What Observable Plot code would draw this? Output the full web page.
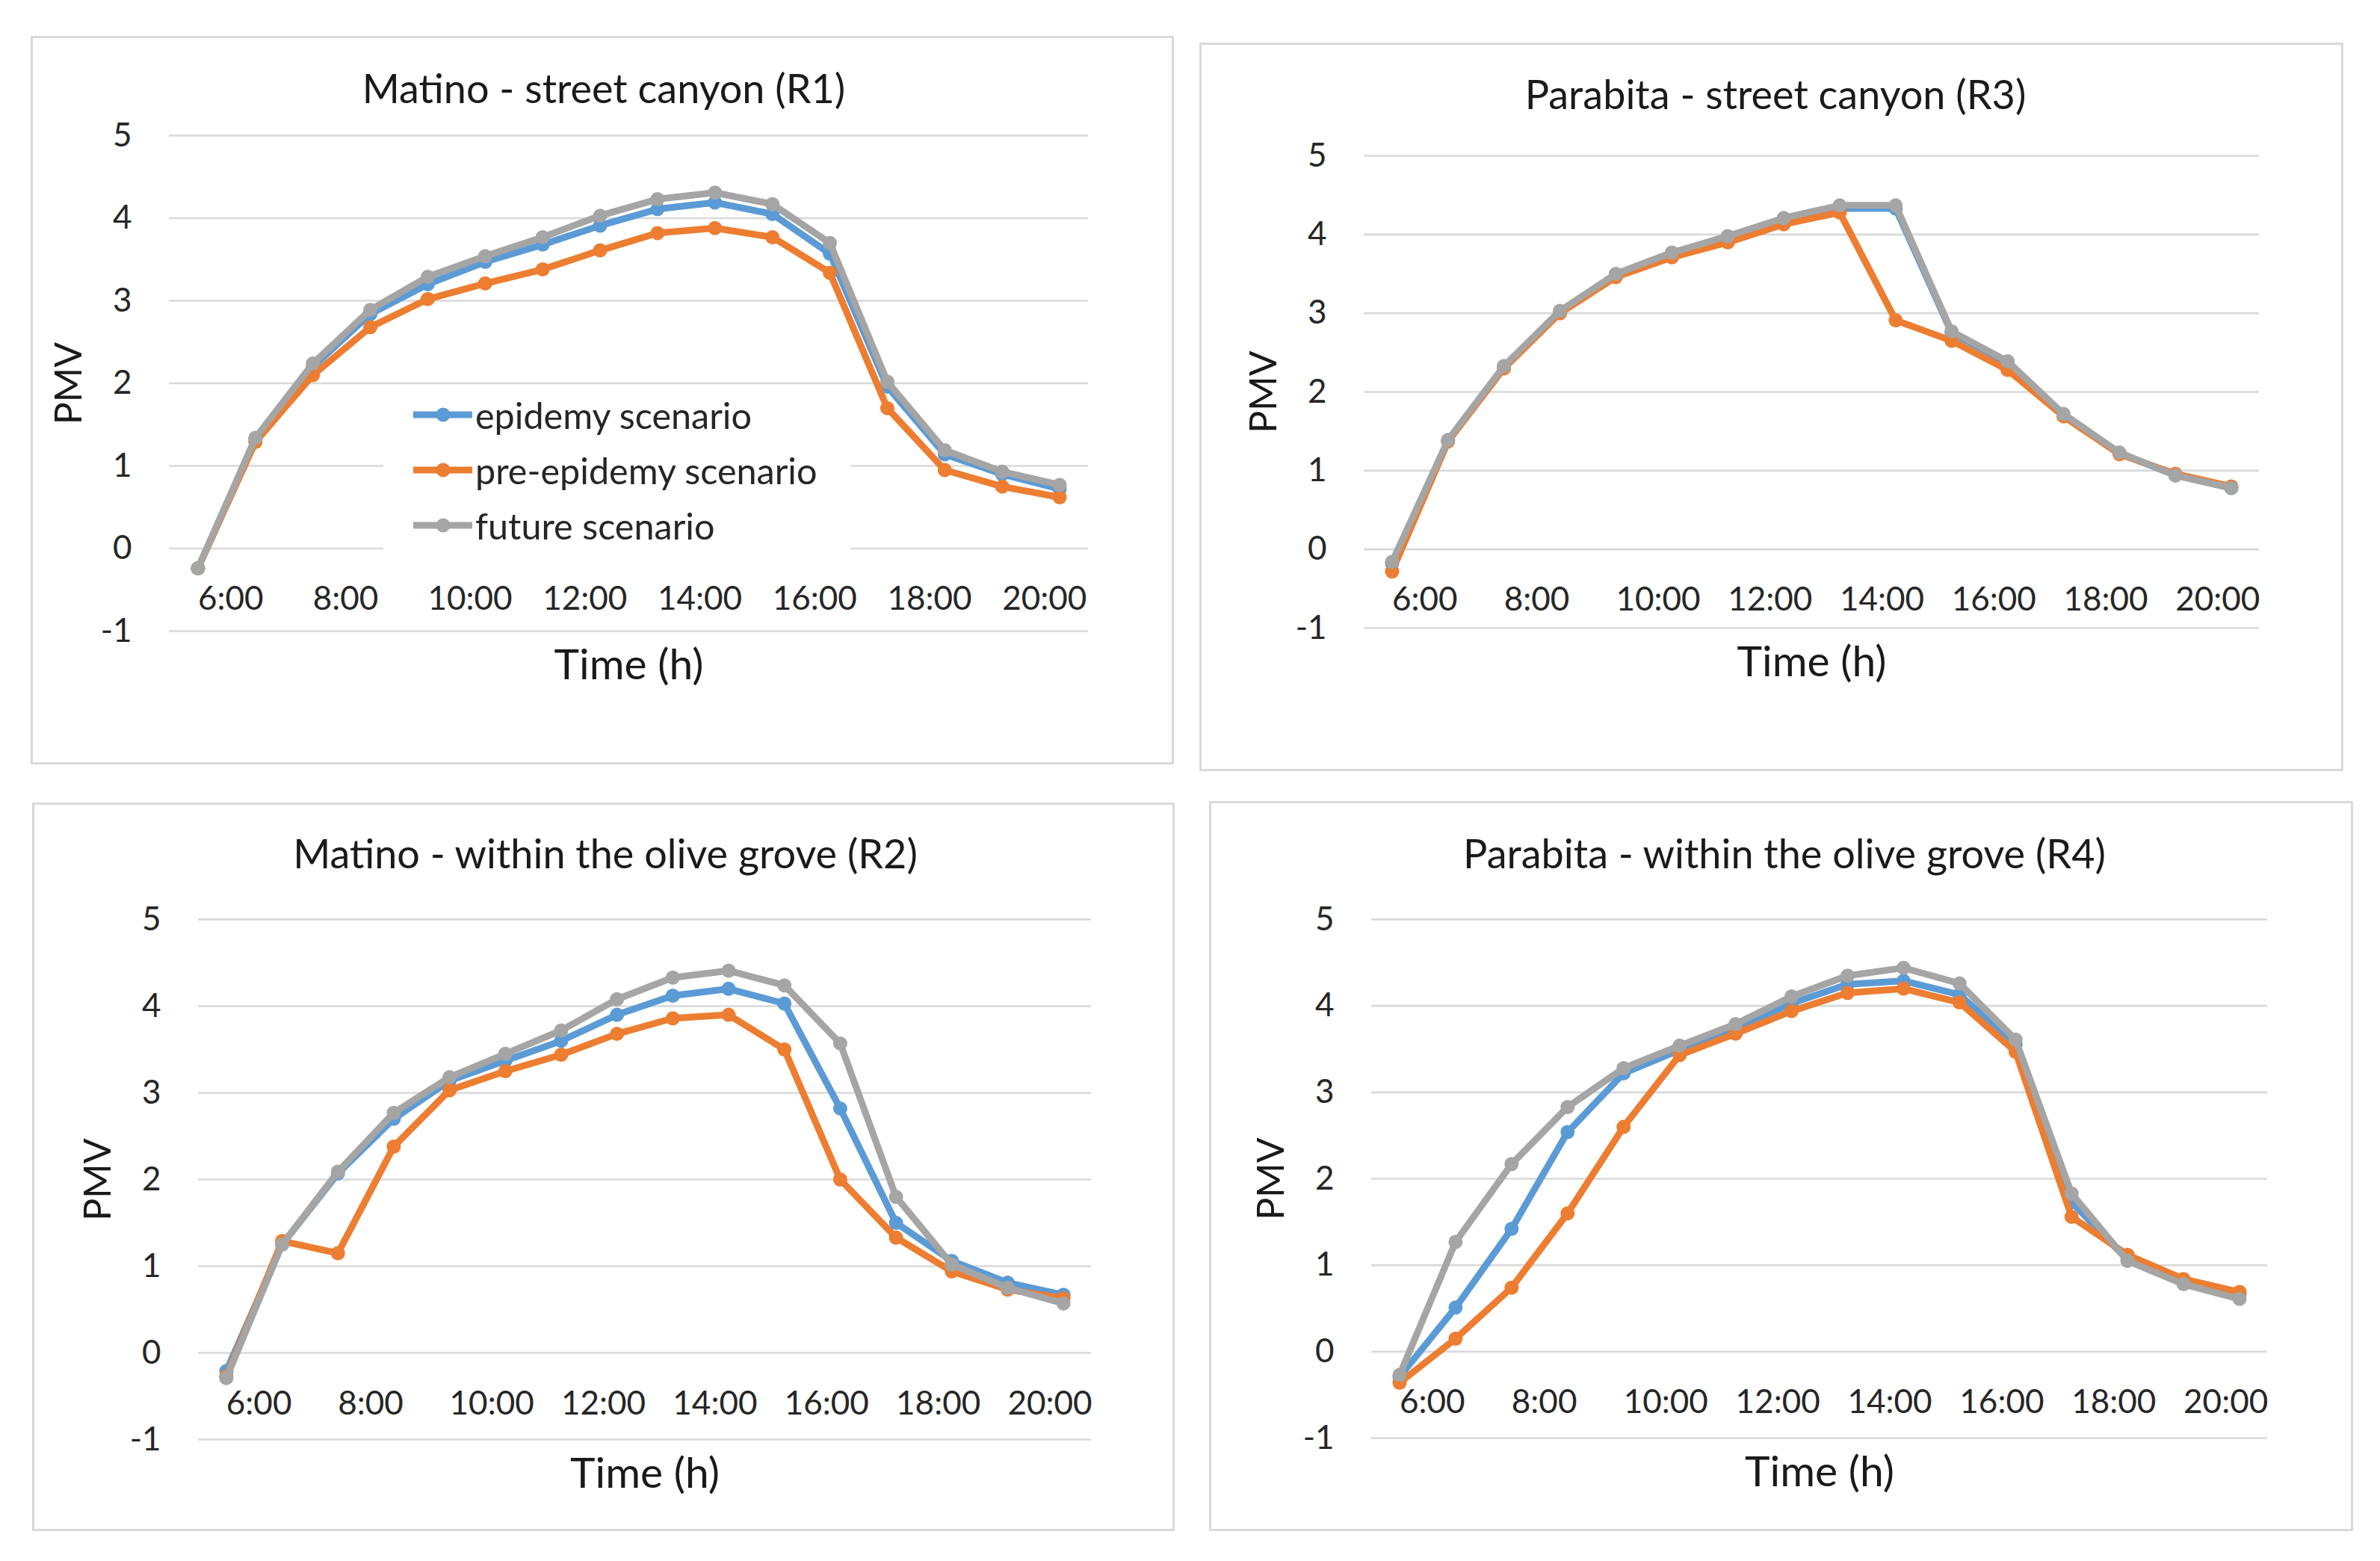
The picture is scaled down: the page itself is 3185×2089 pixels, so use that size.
<!DOCTYPE html>
<html>
<head>
<meta charset="utf-8">
<script src="https://cdn.jsdelivr.net/npm/d3@7"></script>
<script src="https://cdn.jsdelivr.net/npm/@observablehq/plot@0.6"></script>
<style>
  html, body { margin: 0; padding: 0; background: #fff; }
  #page { position: relative; width: 3185px; height: 2089px; background: #fff; font-family: Lato, "Noto Sans", sans-serif; color: #262626; overflow: hidden; }
  .panel { position: absolute; box-sizing: border-box; border: 3px solid #d9d9d9; }
  .title { position: absolute; transform: translate(-50%, -50%); white-space: nowrap; font-size: 54px; color: #1a1a1a; }
  .chart { position: absolute; }
  .legend { position: absolute; background: #fff; z-index: 5; }
  .legend .row { position: absolute; display: flex; align-items: center; transform: translateY(-50%); white-space: nowrap; font-size: 48.5px; color: #262626; }
</style>
</head>
<body>
<div id="page"></div>
<script>
// ---------- data ----------
const hours = [6, 7, 8, 9, 10, 11, 12, 13, 14, 15, 16, 17, 18, 19, 20, 21];
const tickHours = [6, 8, 10, 12, 14, 16, 18, 20];
const tickLabels = ["6:00", "8:00", "10:00", "12:00", "14:00", "16:00", "18:00", "20:00"];
const yTicks = [-1, 0, 1, 2, 3, 4, 5];
const seriesNames = ["epidemy scenario", "pre-epidemy scenario", "future scenario"];
const seriesColors = ["#5B9BD5", "#ED7D31", "#A5A5A5"];

const titles = [
  "Matino - street canyon (R1)",
  "Parabita - street canyon (R3)",
  "Matino - within the olive grove (R2)",
  "Parabita - within the olive grove (R4)"
];

const r1Epidemy = [-0.24, 1.32, 2.20, 2.84, 3.20, 3.47, 3.68, 3.91, 4.11, 4.19, 4.05, 3.57, 1.96, 1.14, 0.90, 0.72];
const r1Pre     = [-0.24, 1.29, 2.10, 2.68, 3.02, 3.21, 3.38, 3.61, 3.82, 3.88, 3.77, 3.34, 1.70, 0.95, 0.75, 0.62];
const r1Future  = [-0.24, 1.34, 2.24, 2.89, 3.29, 3.54, 3.77, 4.03, 4.23, 4.31, 4.17, 3.70, 2.02, 1.19, 0.93, 0.77];

const r3Epidemy = [-0.18, 1.38, 2.32, 3.02, 3.48, 3.75, 3.96, 4.19, 4.33, 4.33, 2.75, 2.37, 1.71, 1.22, 0.94, 0.78];
const r3Pre     = [-0.28, 1.37, 2.30, 3.00, 3.46, 3.71, 3.90, 4.13, 4.28, 2.91, 2.65, 2.28, 1.69, 1.21, 0.96, 0.80];
const r3Future  = [-0.16, 1.39, 2.33, 3.03, 3.50, 3.77, 3.98, 4.21, 4.37, 4.37, 2.77, 2.39, 1.72, 1.23, 0.94, 0.78];

const r2Epidemy = [-0.21, 1.25, 2.07, 2.70, 3.14, 3.37, 3.60, 3.90, 4.12, 4.20, 4.03, 2.82, 1.50, 1.06, 0.81, 0.67];
const r2Pre     = [-0.27, 1.29, 1.15, 2.38, 3.03, 3.25, 3.44, 3.68, 3.86, 3.90, 3.50, 2.00, 1.33, 0.94, 0.73, 0.63];
const r2Future  = [-0.29, 1.25, 2.09, 2.77, 3.18, 3.45, 3.72, 4.08, 4.33, 4.41, 4.24, 3.57, 1.80, 1.02, 0.75, 0.57];

const r4Epidemy = [-0.29, 0.51, 1.42, 2.54, 3.22, 3.49, 3.73, 4.03, 4.25, 4.29, 4.13, 3.55, 1.73, 1.06, 0.83, 0.66];
const r4Pre     = [-0.36, 0.15, 0.74, 1.60, 2.60, 3.43, 3.68, 3.94, 4.15, 4.20, 4.04, 3.47, 1.56, 1.12, 0.84, 0.69];
const r4Future  = [-0.27, 1.27, 2.17, 2.83, 3.28, 3.54, 3.79, 4.11, 4.35, 4.44, 4.26, 3.61, 1.83, 1.05, 0.78, 0.61];

const panelSeries = [
  [r1Epidemy, r1Pre, r1Future],
  [r3Epidemy, r3Pre, r3Future],
  [r2Epidemy, r2Pre, r2Future],
  [r4Epidemy, r4Pre, r4Future]
];

// ---------- layout (page pixels) ----------
const layout = [
  {box: [41, 48, 1571, 1023],  title: [808, 117],  svg: [44, 160, 1524, 860],  m: [21, 112, 176, 182]},
  {box: [1605, 57, 3136, 1032], title: [2376, 125], svg: [1608, 170, 1525, 859], m: [38, 110, 189, 217]},
  {box: [43, 1074, 1572, 2049], title: [810, 1141], svg: [46, 1190, 1523, 856],  m: [40, 109, 120, 219]},
  {box: [1618, 1072, 3149, 2049], title: [2388, 1141], svg: [1621, 1190, 1525, 856], m: [40, 112, 122, 214]}
];

const LINE_W = 9, DOT_R = 9.5;
const page = document.getElementById("page");

panelSeries.forEach((series, p) => {
  const L = layout[p];
  const box = document.createElement("div");
  box.className = "panel";
  Object.assign(box.style, {left: L.box[0] + "px", top: L.box[1] + "px", width: (L.box[2] - L.box[0]) + "px", height: (L.box[3] - L.box[1]) + "px"});
  page.appendChild(box);

  const t = document.createElement("div");
  t.className = "title";
  t.textContent = titles[p];
  Object.assign(t.style, {left: L.title[0] + "px", top: L.title[1] + "px"});
  page.appendChild(t);

  const rows = [];
  series.forEach((vals, s) => vals.forEach((v, i) => rows.push({hour: hours[i], value: v, series: seriesNames[s]})));

  const lineMarks = [];
  seriesNames.forEach((name, s) => {
    const d = rows.filter(r => r.series === name);
    lineMarks.push(Plot.line(d, {x: "hour", y: "value", stroke: seriesColors[s], strokeWidth: LINE_W, strokeLinejoin: "round", strokeLinecap: "round"}));
    lineMarks.push(Plot.dot(d, {x: "hour", y: "value", r: DOT_R, fill: seriesColors[s], stroke: "none"}));
  });

  const chart = Plot.plot({
    width: L.svg[2],
    height: L.svg[3],
    marginTop: L.m[0], marginRight: L.m[1], marginBottom: L.m[2], marginLeft: L.m[3],
    style: {fontFamily: "Lato, 'Noto Sans', sans-serif", color: "#262626", background: "transparent", overflow: "visible"},
    x: {domain: [5.5, 21.5], axis: null},
    y: {domain: [-1, 5]},
    marks: [
      Plot.ruleY(yTicks, {stroke: "#d9d9d9", strokeWidth: 2.7}),
      Plot.axisY(yTicks, {tickSize: 0, tickPadding: 50, tickFormat: d => String(d), fontSize: 44, label: null}),
      Plot.text(tickHours, {x: d => d, y: 0, dy: 68, text: (d, i) => tickLabels[i], textAnchor: "start", lineAnchor: "middle", fontSize: 44, fill: "#262626"}),
      Plot.text(["Time (h)"], {frameAnchor: "bottom", dy: 46, text: d => d, textAnchor: "middle", lineAnchor: "middle", fontSize: 57, fill: "#1a1a1a"}),
      Plot.text(["PMV"], {frameAnchor: "left", dx: -134, rotate: -90, text: d => d, textAnchor: "middle", lineAnchor: "middle", fontSize: 50, fill: "#1a1a1a"}),
      ...lineMarks
    ]
  });
  chart.classList.add("chart");
  Object.assign(chart.style, {position: "absolute", left: L.svg[0] + "px", top: L.svg[1] + "px"});
  page.appendChild(chart);
});

// ---------- legend (panel 1) ----------
const legend = document.createElement("div");
legend.className = "legend";
Object.assign(legend.style, {left: "513px", top: "520px", width: "625px", height: "225px"});
const rowCenters = [35, 109, 183];
seriesNames.forEach((name, s) => {
  const row = document.createElement("div");
  row.className = "row";
  Object.assign(row.style, {left: "40px", top: rowCenters[s] + "px"});
  row.innerHTML = `<svg width="80" height="24" style="margin-right:3px;overflow:visible"><line x1="0" x2="79" y1="12" y2="12" stroke="${seriesColors[s]}" stroke-width="${LINE_W}"/><circle cx="40" cy="12" r="${DOT_R}" fill="${seriesColors[s]}"/></svg><span>${name}</span>`;
  legend.appendChild(row);
});
page.appendChild(legend);
</script>
</body>
</html>
